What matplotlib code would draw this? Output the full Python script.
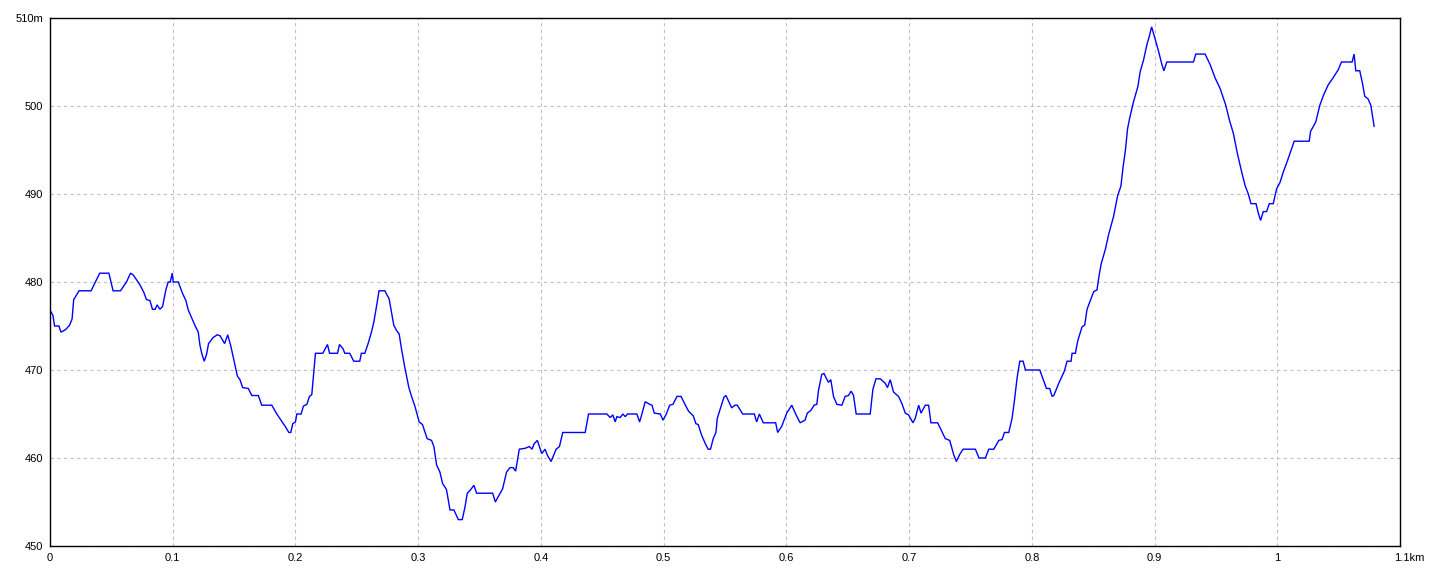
import matplotlib
matplotlib.use("Agg")
import matplotlib.pyplot as plt
import matplotlib.transforms as mtransforms

dist_km = [
    0.0000, 0.0024, 0.0037, 0.0073, 0.0082, 0.0090, 0.0128, 0.0160, 0.0180, 0.0193,
    0.0215, 0.0237, 0.0335, 0.0405, 0.0480, 0.0514, 0.0574, 0.0623, 0.0656, 0.0678,
    0.0732, 0.0765, 0.0786, 0.0814, 0.0835, 0.0857, 0.0873, 0.0895, 0.0917, 0.0944,
    0.0963, 0.0980, 0.0996, 0.1004, 0.1045, 0.1080, 0.1107, 0.1127, 0.1180, 0.1208,
    0.1222, 0.1238, 0.1257, 0.1276, 0.1292, 0.1330, 0.1363, 0.1385, 0.1423, 0.1448,
    0.1472, 0.1494, 0.1527, 0.1548, 0.1570, 0.1616, 0.1644, 0.1698, 0.1725, 0.1807,
    0.1848, 0.1916, 0.1946, 0.1962, 0.1978, 0.2000, 0.2011, 0.2046, 0.2065, 0.2093,
    0.2114, 0.2133, 0.2163, 0.2223, 0.2261, 0.2278, 0.2343, 0.2359, 0.2388, 0.2402,
    0.2442, 0.2475, 0.2524, 0.2537, 0.2565, 0.2592, 0.2619, 0.2638, 0.2660, 0.2681,
    0.2728, 0.2763, 0.2782, 0.2801, 0.2823, 0.2845, 0.2864, 0.2891, 0.2924, 0.2946,
    0.2973, 0.3008, 0.3035, 0.3073, 0.3109, 0.3128, 0.3150, 0.3177, 0.3199, 0.3231,
    0.3259, 0.3291, 0.3327, 0.3359, 0.3381, 0.3400, 0.3422, 0.3454, 0.3476, 0.3607,
    0.3629, 0.3656, 0.3688, 0.3720, 0.3748, 0.3775, 0.3794, 0.3824, 0.3871, 0.3906,
    0.3928, 0.3944, 0.3971, 0.4007, 0.4034, 0.4053, 0.4083, 0.4124, 0.4151, 0.4178,
    0.4361, 0.4388, 0.4537, 0.4565, 0.4586, 0.4605, 0.4619, 0.4646, 0.4668, 0.4687,
    0.4706, 0.4782, 0.4804, 0.4823, 0.4850, 0.4886, 0.4905, 0.4924, 0.4973, 0.4995,
    0.5022, 0.5049, 0.5076, 0.5109, 0.5142, 0.5177, 0.5204, 0.5241, 0.5263, 0.5282,
    0.5309, 0.5344, 0.5363, 0.5382, 0.5404, 0.5426, 0.5437, 0.5464, 0.5491, 0.5508,
    0.5554, 0.5581, 0.5600, 0.5644, 0.5739, 0.5758, 0.5780, 0.5812, 0.5913, 0.5929,
    0.5962, 0.6003, 0.6044, 0.6079, 0.6112, 0.6152, 0.6171, 0.6199, 0.6226, 0.6248,
    0.6261, 0.6288, 0.6307, 0.6324, 0.6343, 0.6362, 0.6384, 0.6411, 0.6452, 0.6479,
    0.6506, 0.6528, 0.6547, 0.6569, 0.6683, 0.6705, 0.6730, 0.6765, 0.6805, 0.6824,
    0.6846, 0.6873, 0.6914, 0.6941, 0.6969, 0.6996, 0.7031, 0.7050, 0.7078, 0.7097,
    0.7132, 0.7159, 0.7178, 0.7233, 0.7268, 0.7295, 0.7331, 0.7363, 0.7385, 0.7412,
    0.7440, 0.7540, 0.7570, 0.7622, 0.7649, 0.7690, 0.7731, 0.7758, 0.7777, 0.7812,
    0.7839, 0.7859, 0.7880, 0.7902, 0.7929, 0.7948, 0.8065, 0.8093, 0.8119, 0.8146,
    0.8165, 0.8179, 0.8220, 0.8266, 0.8287, 0.8320, 0.8328, 0.8355, 0.8374, 0.8409,
    0.8431, 0.8450, 0.8477, 0.8504, 0.8531, 0.8550, 0.8566, 0.8599, 0.8626, 0.8667,
    0.8699, 0.8726, 0.8743, 0.8762, 0.8780, 0.8797, 0.8829, 0.8864, 0.8883, 0.8910,
    0.8938, 0.8959, 0.8976, 0.9005, 0.9033, 0.9060, 0.9076, 0.9100, 0.9317, 0.9336,
    0.9412, 0.9453, 0.9493, 0.9534, 0.9580, 0.9610, 0.9642, 0.9675, 0.9710, 0.9737,
    0.9764, 0.9786, 0.9827, 0.9846, 0.9864, 0.9886, 0.9913, 0.9935, 0.9967, 0.9995,
    1.0022, 1.0049, 1.0081, 1.0108, 1.0138, 1.0260, 1.0271, 1.0314, 1.0347, 1.0379,
    1.0415, 1.0450, 1.0496, 1.0523, 1.0610, 1.0626, 1.0640, 1.0672, 1.0694, 1.0713,
    1.0740, 1.0762, 1.0789,
]
elev_m = [
    476.8, 476.2, 475.0, 475.0, 474.6, 474.3, 474.6, 475.1, 475.8, 478.0,
    478.5, 479.0, 479.0, 481.0, 481.0, 479.0, 479.0, 480.0, 481.0, 480.8,
    479.7, 478.8, 478.0, 477.9, 476.9, 476.9, 477.4, 476.9, 477.2, 479.1,
    480.0, 480.0, 481.0, 480.0, 480.0, 478.7, 477.9, 476.8, 475.1, 474.3,
    472.8, 471.8, 471.0, 471.8, 473.0, 473.7, 474.0, 473.9, 473.0, 474.0,
    472.8, 471.4, 469.3, 468.9, 468.0, 467.9, 467.1, 467.1, 466.0, 466.0,
    465.0, 463.6, 462.9, 462.9, 463.9, 464.1, 465.0, 465.0, 465.9, 466.1,
    467.0, 467.2, 471.9, 471.9, 472.9, 471.9, 471.9, 472.9, 472.4, 471.9,
    471.9, 471.0, 471.0, 471.9, 471.9, 473.0, 474.3, 475.4, 477.2, 479.0,
    479.0, 478.1, 476.6, 475.1, 474.5, 474.1, 472.4, 470.3, 468.0, 467.0,
    465.9, 464.1, 463.8, 462.2, 462.0, 461.3, 459.2, 458.4, 457.1, 456.4,
    454.1, 454.1, 453.0, 453.0, 454.4, 456.0, 456.3, 456.9, 456.0, 456.0,
    455.0, 455.7, 456.5, 458.4, 458.9, 458.9, 458.5, 461.0, 461.1, 461.3,
    461.0, 461.6, 462.0, 460.5, 461.0, 460.3, 459.6, 461.0, 461.3, 462.9,
    462.9, 465.0, 465.0, 464.6, 464.9, 464.1, 464.7, 464.6, 465.0, 464.7,
    465.0, 465.0, 464.1, 465.0, 466.4, 466.1, 466.0, 465.1, 465.0, 464.3,
    465.0, 466.0, 466.1, 467.0, 467.0, 466.0, 465.3, 464.8, 463.9, 463.8,
    462.6, 461.5, 461.0, 461.0, 462.2, 462.9, 464.5, 465.7, 466.9, 467.1,
    465.7, 466.0, 466.0, 465.0, 465.0, 464.1, 465.0, 464.0, 464.0, 462.9,
    463.6, 465.1, 466.0, 464.9, 464.0, 464.3, 465.1, 465.4, 466.0, 466.1,
    467.6, 469.5, 469.6, 469.1, 468.6, 468.9, 467.0, 466.1, 466.0, 467.0,
    467.1, 467.6, 467.1, 465.0, 465.0, 467.8, 469.0, 469.0, 468.5, 468.0,
    468.9, 467.5, 467.0, 466.2, 465.1, 464.9, 464.0, 464.5, 466.0, 465.1,
    466.0, 466.0, 464.0, 464.0, 463.0, 462.2, 462.0, 460.4, 459.6, 460.4,
    461.0, 461.0, 460.0, 460.0, 461.0, 461.0, 462.0, 462.1, 462.9, 462.9,
    464.5, 466.6, 469.1, 471.0, 471.0, 470.0, 470.0, 468.9, 467.9, 467.9,
    467.0, 467.1, 468.5, 469.9, 471.0, 471.0, 471.9, 471.9, 473.3, 474.9,
    475.1, 476.9, 477.9, 478.9, 479.1, 480.9, 482.1, 483.7, 485.4, 487.5,
    489.8, 490.9, 493.0, 494.9, 497.4, 498.6, 500.5, 502.2, 503.9, 505.2,
    507.0, 508.0, 509.0, 507.6, 506.2, 504.7, 504.0, 505.0, 505.0, 505.9,
    505.9, 504.7, 503.2, 502.0, 500.1, 498.4, 496.9, 494.6, 492.5, 491.0,
    490.0, 488.9, 488.9, 487.8, 487.0, 488.0, 488.0, 488.9, 488.9, 490.6,
    491.3, 492.5, 493.7, 494.8, 496.0, 496.0, 497.1, 498.2, 500.1, 501.3,
    502.4, 503.1, 504.1, 505.0, 505.0, 505.9, 504.0, 504.0, 502.6, 501.1,
    500.8, 500.1, 497.7,
]

x_ticks = [0, 0.1, 0.2, 0.3, 0.4, 0.5, 0.6, 0.7, 0.8, 0.9, 1.0, 1.1]
x_tick_labels = ["0", "0.1", "0.2", "0.3", "0.4", "0.5", "0.6", "0.7", "0.8", "0.9", "1", "1.1km"]
y_ticks = [450, 460, 470, 480, 490, 500, 510]
y_tick_labels = ["450", "460", "470", "480", "490", "500", "510m"]

plt.rcParams['font.family'] = ['Liberation Sans', 'DejaVu Sans']

fig = plt.figure(figsize=(14.4, 5.76), dpi=100)
ax = fig.add_axes([50 / 1440, 30 / 576, 1350 / 1440, 528 / 576])

ax.plot(dist_km, elev_m, color="#0000ff", linewidth=1.0, solid_joinstyle="miter")

ax.set_xlim(0, 1.1)
ax.set_ylim(450, 510)
ax.set_xticks(x_ticks)
ax.set_xticklabels(x_tick_labels)
ax.set_yticks(y_ticks)
ax.set_yticklabels(y_tick_labels)
ax.tick_params(axis="both", length=0, labelsize=8, colors="black")
ax.tick_params(axis="x", pad=5)
ax.tick_params(axis="y", pad=5)

# the km label: numeric part centred on the tick
last = ax.get_xticklabels()[-1]
last.set_horizontalalignment("left")
last.set_transform(last.get_transform() + mtransforms.ScaledTranslation(-6 / 100, 0, fig.dpi_scale_trans))

ax.grid(True, color="#c0c0c0", linestyle=(0, (3, 3)), linewidth=0.8)
ax.set_axisbelow(True)
for s in ax.spines.values():
    s.set_color("black")
    s.set_linewidth(1.0)

fig.savefig("out.png", dpi=100, facecolor="white")
